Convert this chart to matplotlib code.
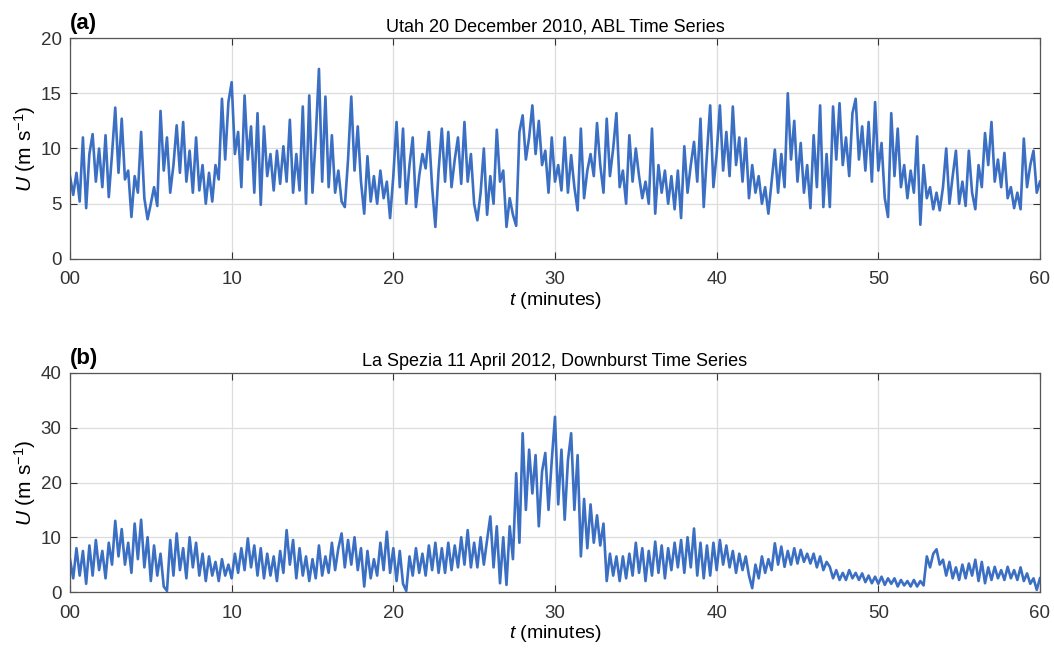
import matplotlib.pyplot as plt
import numpy as np

plt.rcParams['font.family'] = ['Liberation Sans', 'DejaVu Sans']
plt.rcParams['mathtext.fontset'] = 'custom'
plt.rcParams['mathtext.it'] = 'Liberation Sans:italic'
plt.rcParams['mathtext.rm'] = 'Liberation Sans'

# sampling grid of the read-off values (minutes)
t = np.arange(0, 60.01, 0.2)

# (a) Utah ABL wind speed, m/s, read every 0.2 min
u_utah = [
    7.5, 5.8, 7.8, 5.2, 11.0,
    4.6, 9.5, 11.3, 7.0, 10.0,
    6.5, 11.2, 5.6, 9.5, 13.7,
    7.8, 12.7, 7.2, 8.0, 3.8,
    7.5, 6.0, 11.5, 5.5, 3.6,
    5.0, 6.5, 4.8, 13.4, 8.0,
    11.0, 6.0, 8.5, 12.1, 7.8,
    12.4, 7.0, 9.8, 6.0, 11.0,
    6.2, 8.5, 5.0, 7.8, 5.2,
    8.5, 7.2, 14.5, 9.0, 14.2,
    16.0, 9.5, 11.5, 6.5, 14.8,
    9.0, 12.0, 6.0, 13.2, 4.9,
    12.0, 7.5, 9.5, 6.2, 9.8,
    6.8, 10.2, 7.0, 12.6, 6.0,
    9.5, 6.2, 13.8, 5.0, 14.8,
    6.0, 11.0, 17.2, 7.0, 14.7,
    6.5, 11.2, 6.0, 8.0, 5.2,
    4.7, 9.0, 14.7, 8.0, 12.0,
    7.0, 4.1, 9.3, 5.2, 7.5,
    5.0, 8.0, 5.5, 7.0, 3.7,
    7.5, 12.4, 6.5, 11.8, 5.0,
    8.5, 11.0, 4.7, 7.5, 9.5,
    8.2, 11.5, 6.5, 2.9, 8.0,
    11.8, 7.0, 11.5, 6.5, 9.0,
    11.0, 6.8, 12.4, 7.0, 9.5,
    5.0, 3.5, 6.0, 10.0, 4.0,
    7.5, 5.0, 11.7, 7.0, 8.0,
    2.9, 5.5, 4.0, 3.0, 11.5,
    13.0, 9.0, 11.0, 13.9, 9.5,
    12.5, 8.5, 9.8, 6.0, 11.0,
    7.0, 8.5, 6.2, 11.0, 6.0,
    9.4, 6.5, 4.4, 11.8, 5.5,
    8.0, 9.5, 7.5, 12.3, 8.5,
    6.0, 12.7, 7.5, 10.0, 13.2,
    6.5, 8.0, 5.0, 11.2, 7.0,
    10.0, 7.5, 5.5, 7.0, 5.0,
    11.8, 4.1, 8.5, 6.0, 8.0,
    5.0, 7.5, 4.5, 8.0, 3.7,
    10.2, 6.0, 8.5, 10.6, 7.0,
    12.7, 4.7, 9.5, 13.9, 6.5,
    9.5, 13.9, 8.0, 11.5, 7.5,
    13.8, 8.5, 11.0, 7.0, 10.9,
    5.5, 8.5, 6.0, 7.5, 5.0,
    6.5, 4.1, 7.0, 9.9, 6.0,
    9.5, 6.5, 15.0, 9.0, 12.5,
    7.0, 10.5, 6.0, 8.5, 4.6,
    11.2, 6.5, 13.9, 4.7, 9.5,
    4.7, 13.8, 9.0, 14.1, 8.5,
    11.0, 7.5, 13.2, 14.5, 9.0,
    12.0, 8.0, 12.4, 7.0, 14.2,
    8.0, 10.5, 5.5, 3.8, 13.2,
    7.5, 11.8, 6.5, 8.5, 5.5,
    8.0, 6.0, 11.1, 3.1, 8.5,
    5.5, 6.5, 4.5, 6.0, 4.4,
    6.5, 10.0, 5.0, 7.5, 9.8,
    5.0, 7.0, 4.8, 9.8, 6.0,
    4.5, 8.5, 6.5, 11.4, 8.5,
    12.4, 7.0, 9.0, 6.5, 9.6,
    5.5, 6.5, 4.6, 6.0, 4.5,
    10.9, 6.5, 8.5, 9.8, 6.0,
    7.0,
]

# (b) La Spezia downburst wind speed, m/s, read every 0.2 min
u_spezia = [
    6.0, 2.5, 8.0, 3.0, 7.5,
    1.5, 8.5, 3.0, 9.5, 4.0,
    7.5, 2.5, 9.0, 5.0, 13.0,
    6.5, 11.5, 5.0, 9.0, 3.5,
    12.5, 6.0, 13.2, 4.5, 10.0,
    2.0, 8.5, 3.0, 7.0, 1.0,
    0.2, 9.5, 3.0, 10.7, 4.0,
    8.0, 2.5, 10.0, 4.5, 9.0,
    3.0, 7.0, 2.0, 6.5, 3.0,
    5.5, 2.0, 6.0, 3.0, 5.0,
    2.5, 7.0, 3.5, 8.0, 4.0,
    9.8, 4.5, 8.5, 3.0, 8.0,
    2.5, 7.0, 3.0, 6.5, 2.0,
    7.5, 3.5, 11.3, 5.0, 9.5,
    2.5, 8.0, 3.0, 6.5, 2.0,
    6.0, 2.5, 8.5, 3.0, 6.5,
    3.5, 9.0, 4.0, 8.0, 10.7,
    4.5, 9.5, 5.0, 10.0, 4.0,
    8.0, 1.0, 7.5, 2.5, 6.0,
    3.0, 9.0, 4.0, 11.0, 3.5,
    8.0, 2.0, 7.5, 1.5, 0.2,
    6.5, 3.0, 8.0, 3.5, 7.0,
    3.0, 8.5, 4.0, 9.0, 3.5,
    8.0, 3.5, 9.0, 4.0, 8.5,
    4.5, 10.0, 5.0, 11.3, 4.5,
    9.0, 4.5, 10.0, 5.0, 9.5,
    13.8, 4.5, 12.0, 1.6, 10.0,
    1.3, 12.0, 6.0, 21.7, 9.0,
    29.0, 15.0, 26.0, 18.0, 25.0,
    12.0, 22.0, 25.4, 15.0, 24.0,
    32.0, 16.0, 26.0, 13.2, 24.0,
    29.0, 15.0, 25.0, 6.5, 17.0,
    8.0, 16.0, 9.0, 14.0, 8.5,
    12.5, 2.0, 7.0, 3.0, 6.5,
    2.0, 6.5, 2.5, 7.0, 3.0,
    9.0, 3.5, 8.0, 2.0, 7.5,
    3.0, 9.2, 3.5, 8.5, 2.5,
    8.0, 4.0, 9.0, 4.5, 9.5,
    3.5, 10.0, 4.5, 11.6, 3.0,
    9.0, 2.5, 8.5, 3.0, 9.0,
    4.0, 9.5, 5.0, 8.5, 4.5,
    7.5, 3.5, 7.0, 4.0, 6.5,
    3.0, 0.7, 5.0, 2.5, 6.5,
    3.5, 6.0, 4.0, 8.9, 5.0,
    8.3, 4.6, 7.5, 5.0, 8.0,
    5.2, 7.7, 5.5, 7.0, 5.2,
    7.0, 4.5, 6.5, 4.0, 5.5,
    4.6, 2.5, 4.0, 2.2, 3.5,
    2.2, 4.0, 2.5, 3.5, 2.2,
    3.4, 1.8, 3.0, 1.6, 2.8,
    1.5, 2.8, 1.3, 2.5, 1.5,
    2.5, 1.0, 2.2, 1.2, 2.0,
    1.0, 2.2, 1.0, 2.0, 1.2,
    6.5, 4.5, 7.0, 7.8, 5.0,
    5.9, 3.0, 5.5, 2.5, 4.5,
    2.2, 5.0, 2.5, 5.2, 3.0,
    5.9, 2.0, 5.5, 1.6, 4.5,
    2.2, 4.6, 2.5, 4.0, 2.2,
    4.6, 2.5, 4.0, 2.2, 4.5,
    2.0, 3.4, 1.5, 2.5, 0.4,
    2.5,
]

xticks = [0, 10, 20, 30, 40, 50, 60]
xticklabels = ['00', '10', '20', '30', '40', '50', '60']

panels = [
    ('(a)', 'Utah 20 December 2010, ABL Time Series', u_utah, 20, [0, 5, 10, 15, 20]),
    ('(b)', 'La Spezia 11 April 2012, Downburst Time Series', u_spezia, 40, [0, 10, 20, 30, 40]),
]
boxes = [[0.0664, 0.6034, 0.9203, 0.3384], [0.0664, 0.0934, 0.9203, 0.3354]]

fig = plt.figure(figsize=(10.54, 6.53), dpi=100)
for (tag, title, u, ymax, yticks), box in zip(panels, boxes):
    ax = fig.add_axes(box)
    ax.plot(t, u, color='#3b6fc3', lw=1.9)
    ax.set_xlim(0, 60)
    ax.set_ylim(0, ymax)
    ax.set_xticks(xticks)
    ax.set_xticklabels(xticklabels)
    ax.set_yticks(yticks)
    ax.grid(True, color='#dddddd', lw=0.9)
    ax.tick_params(direction='in', top=True, right=True, labelsize=13.5,
                   colors='#333333', length=5, width=0.8)
    ax.tick_params(axis='x', pad=9)
    ax.tick_params(axis='y', pad=6)
    for s in ax.spines.values():
        s.set_color('#555555')
        s.set_linewidth(0.9)
    ax.set_title(title, fontsize=13, pad=5)
    ax.set_xlabel('$t$ (minutes)', fontsize=14, labelpad=1)
    ax.set_ylabel('$U$ (m s$^{-1}$)', fontsize=15, labelpad=2)
    ax.text(0.0, 1.02, tag, transform=ax.transAxes, fontsize=16,
            fontweight='bold', ha='left', va='bottom')

fig.savefig('out.png', dpi=100)
